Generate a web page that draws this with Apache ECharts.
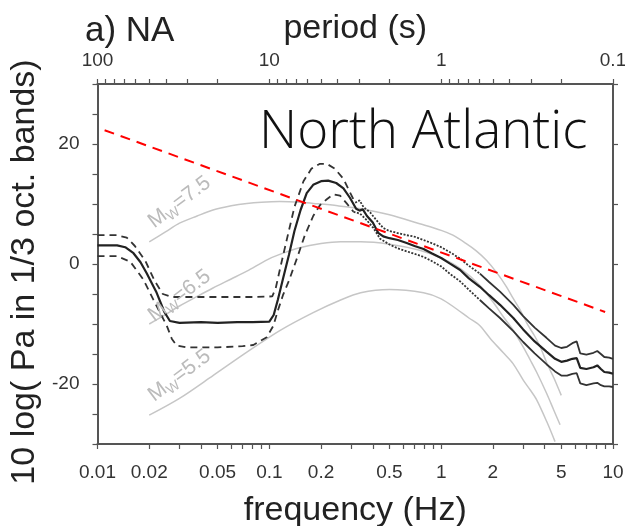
<!DOCTYPE html>
<html>
<head>
<meta charset="utf-8">
<script src="https://cdn.jsdelivr.net/npm/echarts@6/dist/echarts.min.js"></script>
<style>
  html, body { margin: 0; background: #fff; }
  #chart { width: 625px; height: 526px; }
</style>
</head>
<body>
<div id="chart"></div>
<script>
// tick labels
const freqLabels = [0.01, 0.02, 0.05, 0.1, 0.2, 0.5, 1, 2, 5, 10];
const periodLabels = [100, 10, 1, 0.1];
const yLabels = [-20, 0, 20];

// median noise level, 10 log(Pa) in 1/3 octave bands
const medianFreq = [0.01, 0.013, 0.0145, 0.0162, 0.0178, 0.0193, 0.0221, 0.0245, 0.0264, 0.03, 0.04, 0.05, 0.065, 0.08, 0.1,
  0.106, 0.112, 0.12, 0.13, 0.14, 0.152, 0.165, 0.18, 0.2, 0.22, 0.245, 0.27, 0.295, 0.32, 0.335, 0.35, 0.37, 0.4, 0.43,
  0.46, 0.5, 0.56, 0.63, 0.7, 0.79, 0.88, 1.0, 1.12, 1.29, 1.45, 1.68, 1.9, 2.2, 2.63, 3.0, 3.5, 4.1, 4.6, 5.0, 5.4, 5.8,
  6.15, 6.45, 7.0, 7.7, 8.1, 8.5, 8.9, 9.5, 10];
const medianDb = [3.1, 3.1, 2.8, 1.8, 0.3, -1.5, -4.8, -8.0, -9.5, -9.8, -9.7, -9.8, -9.7, -9.7, -9.6,
  -8.5, -6.0, -2.5, 1.5, 5.5, 9.0, 11.8, 13.2, 13.8, 13.9, 13.5, 12.6, 11.0, 9.2, 8.9, 9.1, 8.0, 6.9, 5.2,
  4.6, 4.3, 4.0, 3.5, 3.0, 2.5, 1.8, 1.0, 0.1, -1.0, -2.4, -3.8, -5.2, -6.8, -9.0, -10.9, -12.9, -14.6, -15.8, -16.3, -16.1, -15.8,
  -15.7, -17.3, -17.5, -17.2, -16.9, -17.5, -18.0, -18.1, -18.3];

// upper percentile
const upperFreq = [0.01, 0.013, 0.0148, 0.0165, 0.019, 0.0215, 0.024, 0.027, 0.05, 0.08, 0.104, 0.109, 0.115, 0.125, 0.14,
  0.158, 0.176, 0.197, 0.216, 0.24, 0.27, 0.295, 0.316, 0.335, 0.353, 0.386, 0.42, 0.46, 0.5, 0.55, 0.63, 0.69, 0.79, 0.86,
  1.0, 1.12, 1.29, 1.45, 1.68, 1.9, 2.2, 2.63, 3.0, 3.5, 4.1, 4.6, 5.0, 5.4, 5.8, 6.15, 6.45, 7.0, 7.7, 8.1, 8.5, 8.9, 9.5, 10];
const upperDb = [4.8, 4.8, 4.4, 3.0, 0.5, -2.8, -5.0, -5.5, -5.5, -5.5, -5.4, -4.0, -1.0, 3.5, 9.5,
  13.8, 15.9, 16.7, 16.7, 15.9, 14.2, 11.9, 10.2, 10.6, 9.5, 8.6, 7.3, 6.0, 5.5, 5.2, 4.8, 4.6, 4.0, 3.6,
  2.8, 2.0, 0.9, -0.3, -1.6, -3.0, -4.6, -6.8, -8.7, -10.6, -12.3, -13.6, -14.0, -13.8, -13.2, -12.9, -14.9, -15.1, -14.8, -14.5, -15.0, -15.5, -15.6, -15.8];

// lower percentile
const lowerFreq = [0.01, 0.013, 0.0155, 0.0185, 0.0211, 0.0235, 0.0253, 0.0271, 0.0289, 0.033, 0.05, 0.07, 0.0807, 0.0966, 0.1055,
  0.112, 0.12, 0.13, 0.145, 0.161, 0.18, 0.197, 0.216, 0.236, 0.258, 0.282, 0.309, 0.337, 0.369, 0.403, 0.441, 0.504, 0.56,
  0.631, 0.7, 0.787, 0.88, 1.0, 1.12, 1.29, 1.45, 1.68, 1.9, 2.2, 2.63, 3.0, 3.5, 4.1, 4.6, 5.0, 5.4, 5.8, 6.15, 6.45, 7.0,
  7.7, 8.1, 8.5, 8.9, 9.5, 10];
const lowerDb = [1.3, 1.3, 0.4, -2.6, -5.9, -8.5, -10.3, -12.5, -13.6, -13.9, -13.9, -13.7, -13.5, -12.2, -10.3,
  -7.8, -5.2, -2.8, 1.0, 4.8, 8.0, 9.8, 10.8, 11.6, 11.4, 10.1, 8.7, 8.4, 7.3, 6.0, 4.2, 3.2, 2.6,
  2.1, 1.7, 1.2, 0.5, -0.4, -1.6, -2.9, -4.3, -6.0, -7.4, -9.0, -11.2, -13.0, -14.9, -16.7, -17.9, -18.6, -18.6, -18.3, -18.2, -19.9, -20.2,
  -19.9, -19.8, -20.2, -20.4, -20.4, -20.5];

// model source spectra
const mw75Freq = [0.02, 0.025, 0.03, 0.038, 0.047, 0.06, 0.074, 0.09, 0.115, 0.15, 0.18, 0.25, 0.34, 0.5, 0.75, 1.0, 1.17,
  1.4, 1.6, 1.84, 2.1, 2.4, 2.62, 2.9, 3.2, 3.5, 3.77, 4.12, 4.53, 5.0];
const mw75Db = [3.7, 5.4, 6.8, 8.0, 9.0, 9.7, 10.1, 10.3, 10.4, 10.3, 10.1, 9.7, 9.2, 8.2, 6.7, 5.6, 4.8,
  3.4, 2.2, 0.6, -1.4, -3.8, -5.7, -7.8, -10.2, -12.0, -13.8, -16.5, -19.0, -21.9];
const mw65Freq = [0.02, 0.025, 0.03, 0.038, 0.047, 0.06, 0.074, 0.097, 0.115, 0.15, 0.2, 0.26, 0.34, 0.5, 0.75, 1.0, 1.3, 1.67,
  2.0, 2.3, 2.62, 3.0, 3.3, 3.59, 4.1, 4.5, 4.92];
const mw65Db = [-10.0, -8.4, -7.0, -5.4, -4.0, -2.5, -1.2, 0.7, 1.6, 2.7, 3.4, 3.7, 3.7, 3.3, 2.3, 1.0, -0.8, -3.5,
  -6.3, -8.8, -11.0, -13.8, -16.0, -18.0, -21.5, -24.2, -26.8];
const mw55Freq = [0.02, 0.03, 0.047, 0.074, 0.115, 0.18, 0.26, 0.34, 0.5, 0.79, 1.0, 1.23, 1.45, 1.67, 1.93, 2.3, 2.62,
  3.01, 3.3, 3.59, 4.12, 4.6];
const mw55Db = [-25.2, -22.4, -18.6, -14.7, -11.1, -8.1, -6.0, -4.8, -4.25, -4.8, -5.8, -7.5, -9.0, -10.2, -12.4, -14.8, -16.6,
  -19.4, -21.0, -22.6, -26.3, -29.6];
const mwNames = ['7.5', '6.5', '5.5'];
const mwLabelFreq = [0.03, 0.03, 0.03];
const mwLabelDb = [10.3, -5.3, -18.6];

// red dashed reference line
const redFreq = [0.011, 9];
const redDb = [22.3, -8.0];

const toLog = (freq, db) => freq.map((f, i) => [Math.log10(f), db[i]]);
// piece of a curve in (lo, hi], plus the first point past hi so pieces join
function seg(freq, db, lo, hi) {
  const out = [];
  for (let i = 0; i < freq.length; i++) {
    if (freq[i] <= lo) continue;
    out.push([Math.log10(freq[i]), db[i]]);
    if (freq[i] > hi) break;
  }
  return out;
}
const logTicks = (lo, hi) => {
  const t = [];
  for (let d = lo; d < hi; d++) for (let k = 1; k < 10; k++) t.push(Math.log10(k * Math.pow(10, d)));
  t.push(hi);
  return t;
};
const fmtLog = v => String(+Math.pow(10, v).toPrecision(2));
const steps = (a, b, s) => { const t = []; for (let v = a; v <= b; v += s) t.push(v); return t; };

const font = 'Liberation Sans, Arial, Helvetica, sans-serif';
const frame = { show: true, onZero: false, lineStyle: { color: '#555', width: 2 } };
const tick = { show: true, inside: false, length: 5, lineStyle: { color: '#555', width: 1.2 } };
const grayCol = '#c6c6c6';

function line(data, color, width, type, z) {
  return {
    type: 'line', data: data, xAxisIndex: 0, yAxisIndex: 0,
    showSymbol: false, symbol: 'none', silent: true, z: z,
    lineStyle: { color: color, width: width, type: type }
  };
}

const series = [];
[[mw75Freq, mw75Db], [mw65Freq, mw65Db], [mw55Freq, mw55Db]].forEach((c, i) => {
  const s = line(toLog(c[0], c[1]), grayCol, 1.5, 'solid', 1);
  s.smooth = 0.3;
  s.markPoint = {
    symbol: 'circle', symbolSize: 1, silent: true,
    itemStyle: { color: 'rgba(0,0,0,0)' },
    data: [{ coord: [Math.log10(mwLabelFreq[i]), mwLabelDb[i]] }],
    label: {
      show: true, rotate: 37, position: 'inside',
      formatter: '{m|M}{w|W}{m|=' + mwNames[i] + '}',
      rich: {
        m: { fontSize: 21, color: '#bbbbbb', fontFamily: font, lineHeight: 26 },
        w: { fontSize: 14, color: '#bbbbbb', fontFamily: font, verticalAlign: 'bottom', lineHeight: 26 }
      }
    }
  };
  series.push(s);
});
[[upperFreq, upperDb], [lowerFreq, lowerDb]].forEach(c => {
  series.push(line(seg(c[0], c[1], 0, 0.3), '#333', 1.8, [7, 5], 3));
  series.push(line(seg(c[0], c[1], 0.3, 1.5), '#333', 1.8, [2, 1.5], 3));
  series.push(line(seg(c[0], c[1], 1.5, 100), '#333', 1.8, 'solid', 3));
});
series.push(line(toLog(medianFreq, medianDb), '#222', 2.2, 'solid', 4));
series.push(line(toLog(redFreq, redDb), '#ff0000', 2, [10, 7], 5));

const chart = echarts.init(document.getElementById('chart'));
chart.setOption({
  animation: false,
  backgroundColor: '#fff',
  title: [
    { text: 'a) NA', left: 80, top: 9, textStyle: { fontSize: 35, fontWeight: 'normal', color: '#222', fontFamily: font } },
    { text: 'North Atlantic', left: 254, top: 101, textStyle: { fontSize: 53, fontWeight: 300, color: '#111', fontFamily: 'Open Sans' } }
  ],
  grid: { left: 97.5, right: 12, top: 84, bottom: 82, outerBoundsMode: 'none' },
  xAxis: [
    {
      type: 'value', min: -2, max: 1, position: 'bottom',
      axisLine: frame, splitLine: { show: false },
      axisTick: Object.assign({}, tick, { customValues: logTicks(-2, 1) }),
      axisLabel: { customValues: freqLabels.map(Math.log10), formatter: fmtLog, margin: 19, fontSize: 19, color: '#333', fontFamily: font },
      name: 'frequency (Hz)', nameLocation: 'middle', nameGap: 50,
      nameTextStyle: { fontSize: 34, color: '#222', fontFamily: font }
    },
    {
      type: 'value', min: -1, max: 2, inverse: true, position: 'top',
      axisLine: frame, splitLine: { show: false },
      axisTick: Object.assign({}, tick, { customValues: logTicks(-1, 2) }),
      axisLabel: { customValues: periodLabels.map(Math.log10), formatter: fmtLog, margin: 14, fontSize: 19, color: '#333', fontFamily: font },
      name: 'period (s)', nameLocation: 'middle', nameGap: 38,
      nameTextStyle: { fontSize: 34, color: '#222', fontFamily: font }
    }
  ],
  yAxis: [
    {
      type: 'value', min: -30, max: 30, position: 'left',
      axisLine: frame, splitLine: { show: false },
      axisTick: Object.assign({}, tick, { customValues: steps(-30, 30, 5) }),
      axisLabel: { customValues: yLabels, margin: 18, fontSize: 19, color: '#333', fontFamily: font },
      name: '10 log( Pa in 1/3 oct. bands)', nameLocation: 'middle', nameGap: 46,
      nameTextStyle: { fontSize: 34, color: '#222', fontFamily: font, padding: [0, 16, 0, 0] }
    },
    {
      type: 'value', min: -30, max: 30, position: 'right',
      axisLine: frame, splitLine: { show: false },
      axisTick: Object.assign({}, tick, { customValues: steps(-30, 30, 10) }),
      axisLabel: { show: false }
    }
  ],
  series: series
});
</script>
</body>
</html>
